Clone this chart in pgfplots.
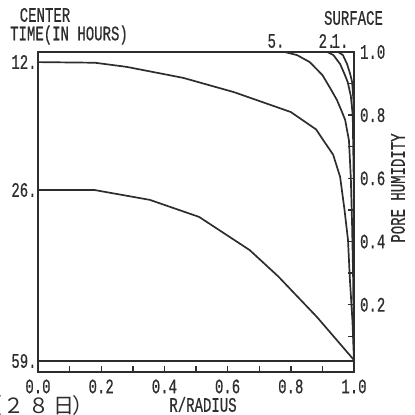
\documentclass[border=0pt]{standalone}
\usepackage{fontspec}
\setmainfont[FakeStretch=0.68, FakeBold=0.6]{Liberation Mono}
\newfontfamily\cjk{Noto Sans CJK JP}
\usepackage{pgfplots}
\pgfplotsset{compat=1.18}
\definecolor{ink}{RGB}{45,45,45}
\newcommand\pf{\fontsize{10.3}{11}\selectfont}
\pgfplotsset{curve/.style={ink, solid, line width=0.85pt, no markers}}

\begin{document}
\begin{tikzpicture}[x=1pt,y=1pt]
  % page = the 415x415 px scan, 1 px = 0.5 pt, origin at the lower left of the frame
  \useasboundingbox (-19,-21.5) rectangle (188.5,186);
  \begin{axis}[
    at={(0,0)}, anchor=south west,
    scale only axis, width=158pt, height=160pt,
    xmin=0, xmax=1, ymin=-0.0127, ymax=1.0,
    axis line style={ink, line width=0.8pt},
    xtick={0,0.2,...,1.0}, minor xtick={0.1,0.3,...,0.9},
    ytick={0.2,0.4,...,1.0}, minor ytick={0.1,0.3,...,0.9},
    xtick pos=bottom, ytick pos=right,
    tick align=inside,
    major tick length=3pt, minor tick length=3pt,
    every tick/.style={ink, line width=0.7pt},
    tick label style={font=\pf, text=ink},
    /pgf/number format/assume math mode=true,
    /pgf/number format/.cd, fixed, fixed zerofill, precision=1, /pgfplots/.cd,
    xticklabel style={yshift=-0.2pt},
    yticklabel style={xshift=-0.5pt},
    clip=false,
  ]
    % 1 h
    \addplot[curve] coordinates {(0,1)(0.95,1)(0.965,0.99)(0.978,0.962)(0.988,0.93)(0.994,0.905)(0.998,0.85)(1.0,0.75)(1.0,0.022)};
    % 2 h
    \addplot[curve] coordinates {(0,1)(0.915,1)(0.935,0.99)(0.956,0.962)(0.97,0.93)(0.98,0.905)(0.99,0.86)(0.996,0.80)(0.999,0.6)(1.0,0.022)};
    % 5 h
    \addplot[curve] coordinates {(0,1)(0.78,1)(0.82,0.99)(0.86,0.968)(0.90,0.927)(0.925,0.885)(0.946,0.848)(0.96,0.815)(0.972,0.785)(0.984,0.72)(0.99,0.6)(0.994,0.45)(0.997,0.3)(1.0,0.022)};
    % 12 h
    \addplot[curve] coordinates {(0,0.968)(0.18,0.966)(0.28,0.953)(0.46,0.918)(0.62,0.873)(0.80,0.81)(0.88,0.755)(0.90,0.725)(0.934,0.675)(0.956,0.605)(0.97,0.5)(0.981,0.405)(0.987,0.28)(0.995,0.15)(1.0,0.022)};
    % 26 h
    \addplot[curve] coordinates {(0,0.563)(0.18,0.563)(0.354,0.532)(0.51,0.478)(0.67,0.373)(0.76,0.29)(0.883,0.161)(1.0,0.025)};
    % 59 h
    \addplot[curve] coordinates {(0,0.022)(1,0.022)};
  \end{axis}
  \begin{scope}[every node/.style={font=\pf, text=ink, inner sep=0pt}]
    \node at (3.5,178.5) {CENTER};
    \node at (15.5,168.5) {TIME(IN HOURS)};
    \node at (157.75,177) {SURFACE};
    \node at (119,165.5) {5.};
    \node at (144.5,165.5) {2.};
    \node at (151,165.5) {1.};
    \node[anchor=east] at (-0.5,155) {12.};
    \node[anchor=east] at (-0.5,91) {26.};
    \node[anchor=east] at (-0.5,5.5) {59.};
    \node at (82.5,-16.2) {R/RADIUS};
    \node[rotate=90] at (180,92) {PORE HUMIDITY};
  \end{scope}
  \begin{scope}[every node/.style={anchor=base, inner sep=0pt, text=ink, font=\cjk\fontsize{10.5}{12}\selectfont}]
    \node at (-23,-20.5) {（};
    \node at (-12,-20.5) {２};
    \node at (0.5,-20.5) {８};
    \node at (12.75,-20.5) {日};
    \node at (22.5,-20.5) {）};
  \end{scope}
\end{tikzpicture}
\end{document}
